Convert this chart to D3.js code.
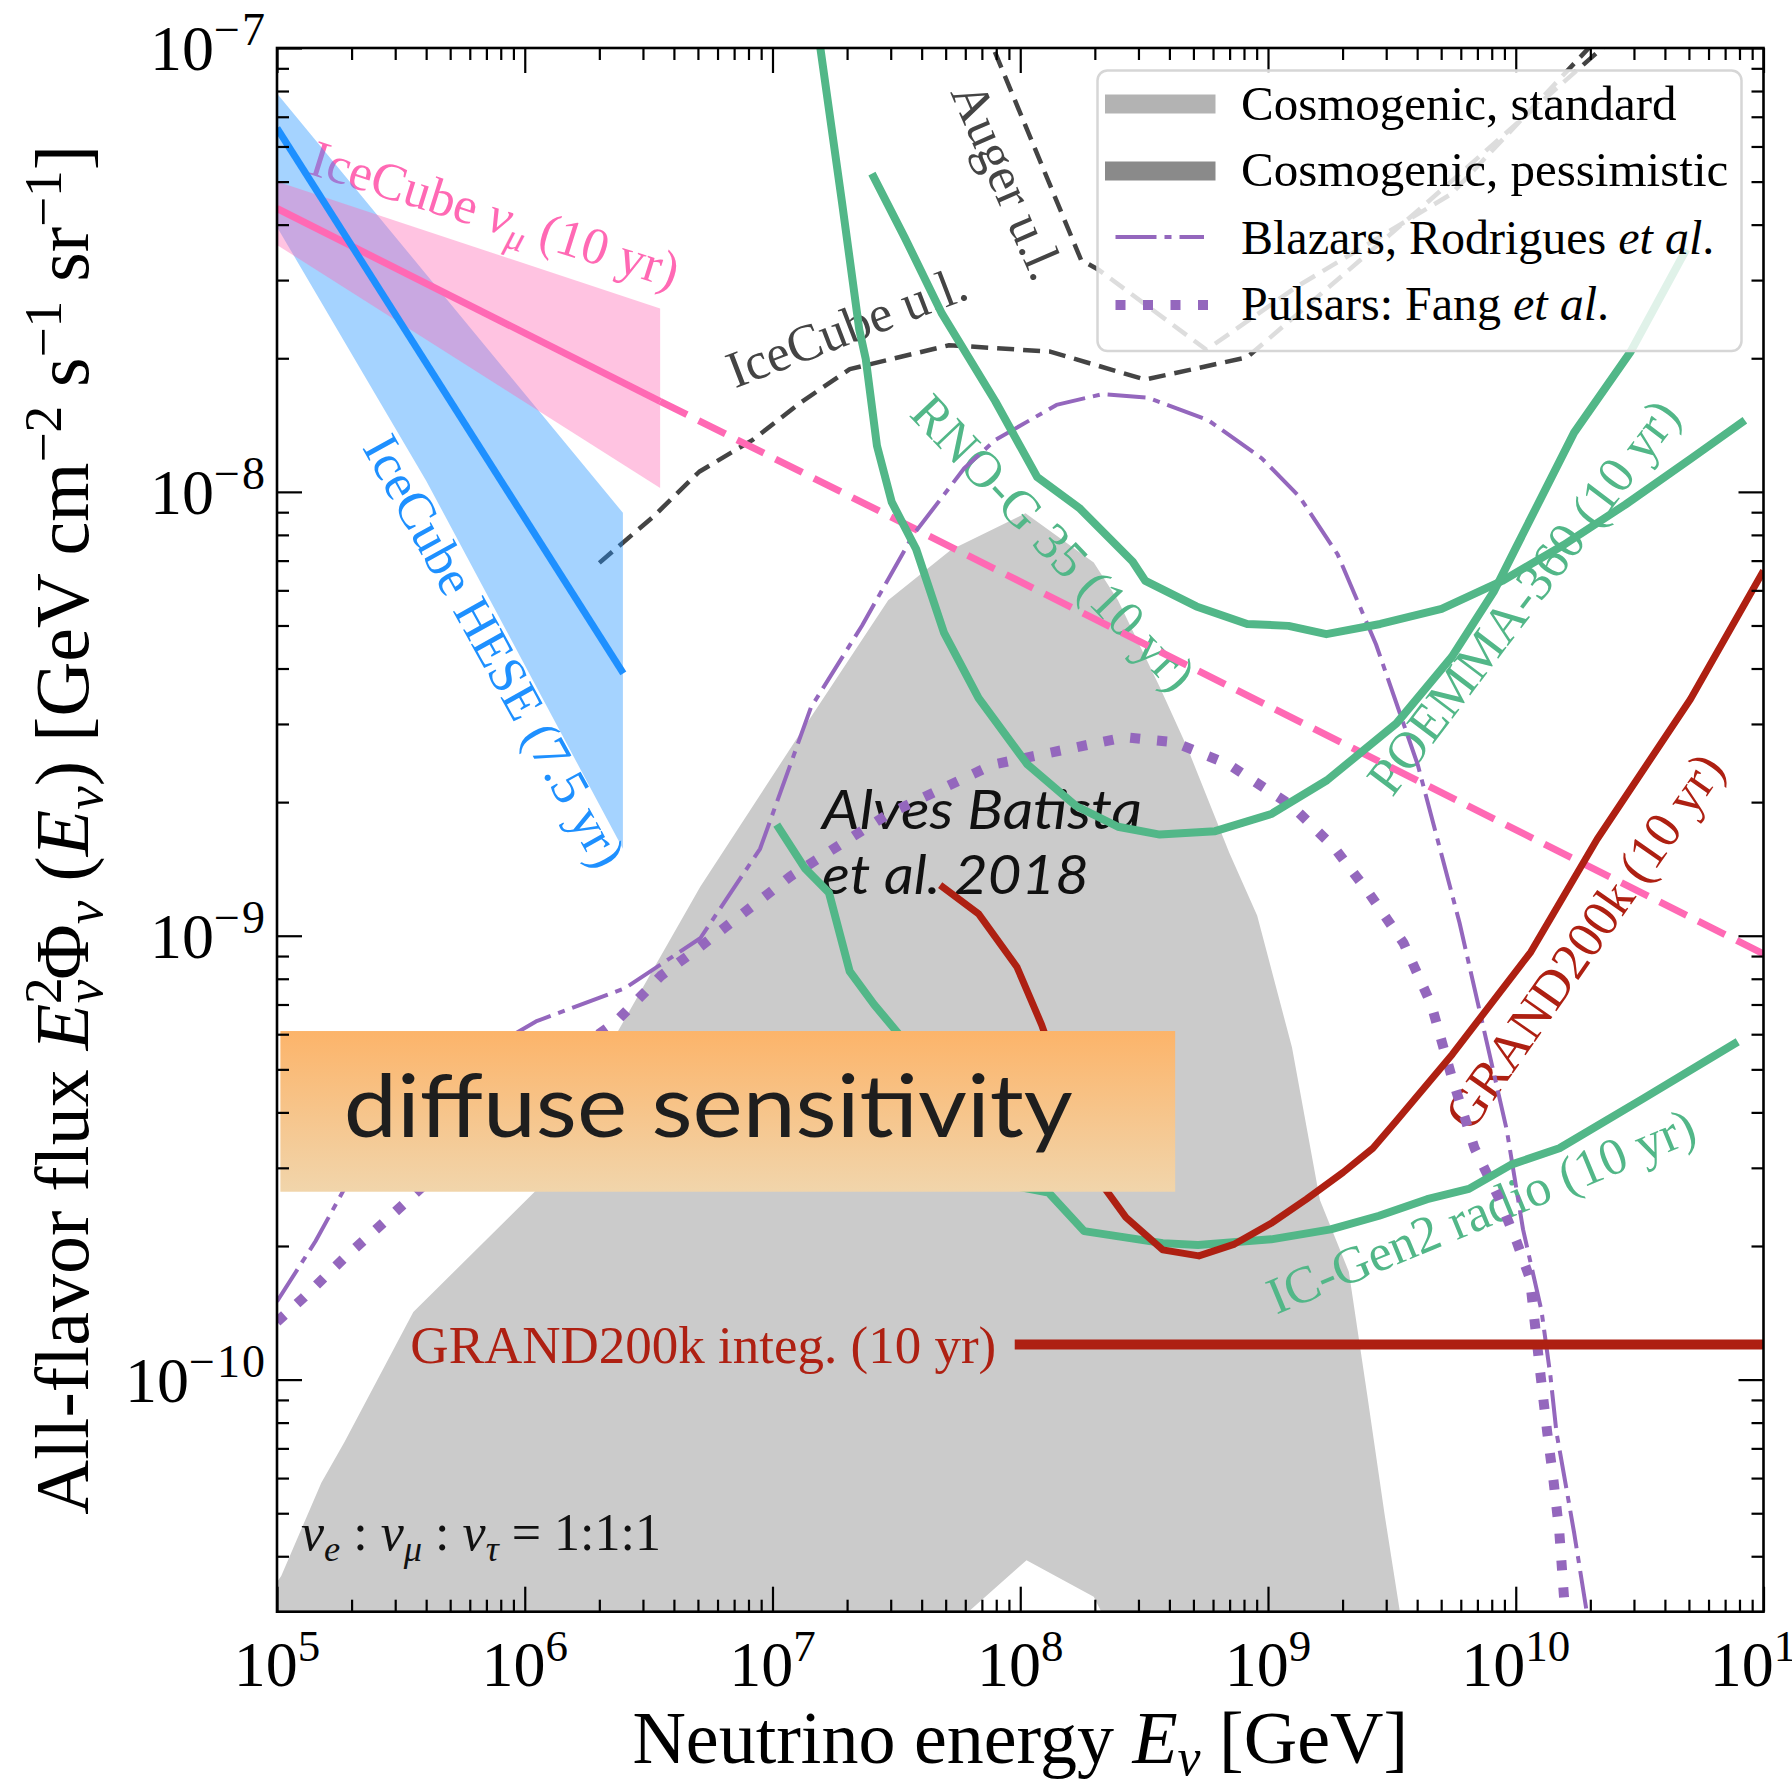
<!DOCTYPE html>
<html><head><meta charset="utf-8">
<script src="https://cdn.jsdelivr.net/npm/d3@7"></script>
<style>
body{margin:0;background:#fff;}
svg{display:block;}
</style></head><body>
<svg id="chart" width="1792" height="1786" font-family="'Liberation Serif','DejaVu Serif',serif"></svg>
<script>
// ---------------- data ----------------
const energyDomain = [1e5, 1e11];
const fluxDomain = [3e-11, 1e-7];
const xTickValues = [1e5, 1e6, 1e7, 1e8, 1e9, 1e10, 1e11];
const xTickExponents = ["5", "6", "7", "8", "9", "10", "11"];
const yTickValues = [1e-10, 1e-9, 1e-8, 1e-7];
const yTickExponents = ["\u221210", "\u22129", "\u22128", "\u22127"];

const cosmoStandardUpper = [[1.0e5,3.5e-11],[1.04e5,3.61e-11],[1.51e5,5.86e-11],[1.87e5,7.23e-11],[3.55e5,1.42e-10],[1.15e6,2.72e-10],[2.34e6,6.0e-10],[5.11e6,1.29e-9],[1.29e7,2.85e-9],[2.93e7,5.70e-9],[5.26e7,7.41e-9],[1.05e8,8.95e-9],[1.98e8,6.93e-9],[2.48e8,5.70e-9],[3.66e8,3.63e-9],[4.74e8,2.64e-9],[6.97e8,1.54e-9],[9.04e8,1.11e-9],[1.25e9,5.60e-10],[1.62e9,2.54e-10],[2.12e9,1.75e-10],[2.51e9,9.31e-11],[2.96e9,4.94e-11],[3.41e9,2.99e-11],[3.63e9,2.0e-11]];
const cosmoStandardLower = [[1.0e5,1e-11],[1.0e7,1e-11],[4.9e7,2.67e-11],[6.18e7,3.0e-11],[1.06e8,3.92e-11],[1.98e8,3.24e-11],[2.13e8,2.99e-11],[2.29e8,2.5e-11],[3.63e9,1e-11]];

const heseLine = [[1e5,6.6e-8],[2.5e6,3.9e-9]];
const heseBandUpper = [[1e5,7.9e-8],[2.49e6,8.97e-9]];
const heseBandLower = [[1e5,3.95e-8],[4.0e5,1.06e-8],[2.49e6,1.57e-9]];

const numuSolid = [[1e5,4.35e-8],[3.52e6,1.6e-8]];
const numuDashed = [[3.52e6,1.6e-8],[1e11,9.1e-10]];
const numuBandUpper = [[1e5,5.0e-8],[3.52e6,2.59e-8]];
const numuBandLower = [[1e5,3.6e-8],[3.52e6,1.02e-8]];

const icecubeUL = [[2.0e6,6.92e-9],[3.3e6,8.79e-9],[5.06e6,1.11e-8],[8.32e6,1.31e-8],[1.30e7,1.59e-8],[2.05e7,1.89e-8],[5.16e7,2.14e-8],[1.32e8,2.07e-8],[3.19e8,1.79e-8],[8.24e8,2.01e-8],[4.34e9,4.46e-8],[2.28e10,1.01e-7]];
const augerUL = [[7.2e7,1.11e-7],[1.76e8,3.33e-8],[2.08e8,3.16e-8],[5.64e8,2.09e-8],[1.32e9,2.91e-8],[5.5e9,4.69e-8],[2.14e10,1.05e-7]];

const blazars = [[1e5,1.5e-10],[1.43e5,2.05e-10],[1.87e5,2.69e-10],[3.14e5,3.65e-10],[5.34e5,5.06e-10],[1.11e6,6.41e-10],[2.54e6,7.62e-10],[5.11e6,9.87e-10],[8.91e6,1.57e-9],[1.43e7,3.27e-9],[2.30e7,5.0e-9],[3.71e7,8.02e-9],[5.94e7,1.13e-8],[7.95e7,1.31e-8],[1.40e8,1.57e-8],[2.14e8,1.66e-8],[3.27e8,1.63e-8],[5.74e8,1.45e-8],[9.44e8,1.19e-8],[1.34e9,9.75e-9],[1.91e9,7.23e-9],[2.73e9,4.53e-9],[4.02e9,2.43e-9],[5.93e9,1.07e-9],[9.2e9,3.65e-10],[1.07e10,2.18e-10],[1.27e10,1.43e-10],[1.38e10,1.02e-10],[1.46e10,7.6e-11],[1.58e10,5.93e-11],[1.72e10,4.52e-11],[1.93e10,3.02e-11],[1.98e10,2.54e-11]];
const pulsars = [[1e5,1.35e-10],[1.28e5,1.53e-10],[1.87e5,1.88e-10],[2.72e5,2.27e-10],[3.95e5,2.75e-10],[9.08e5,4.37e-10],[2.34e6,6.41e-10],[3.54e6,8.12e-10],[5.11e6,9.45e-10],[1.18e7,1.36e-9],[2.93e7,1.88e-9],[7.75e7,2.43e-9],[1.92e8,2.70e-9],[2.64e8,2.80e-9],[4.17e8,2.73e-9],[6.95e8,2.43e-9],[1.25e9,1.96e-9],[1.85e9,1.58e-9],[2.55e9,1.25e-9],[3.52e9,9.64e-10],[4.56e9,7.0e-10],[5.55e9,4.75e-10],[6.82e9,3.32e-10],[8.53e9,2.57e-10],[1.01e10,2.04e-10],[1.14e10,1.69e-10],[1.26e10,1.02e-10],[1.34e10,7.6e-11],[1.42e10,5.93e-11],[1.50e10,4.51e-11],[1.58e10,3.02e-11],[1.62e10,2.55e-11]];

const rnoG = [[2.52e7,5.21e-8],[3.41e7,3.75e-8],[4.83e7,2.52e-8],[7.93e7,1.60e-8],[1.17e8,1.08e-8],[1.73e8,9.2e-9],[2.84e8,6.97e-9],[3.20e8,6.30e-9],[5.14e8,5.52e-9],[8.24e8,5.04e-9],[1.21e9,4.99e-9],[1.72e9,4.78e-9],[2.84e9,5.04e-9],[5.02e9,5.45e-9],[8.81e9,6.30e-9],[1.56e10,7.59e-9],[2.77e10,9.36e-9],[5.12e10,1.19e-8],[8.41e10,1.45e-8]];
const poemma = [[1.53e7,1.14e-7],[1.56e7,1.0e-7],[1.91e7,4.47e-8],[2.24e7,2.32e-8],[2.38e7,1.99e-8],[2.64e7,1.27e-8],[3.03e7,9.48e-9],[3.80e7,7.43e-9],[4.92e7,4.82e-9],[6.79e7,3.43e-9],[1.07e8,2.43e-9],[1.68e8,1.96e-9],[2.48e8,1.76e-9],[3.66e8,1.69e-9],[6.12e8,1.72e-9],[1.03e9,1.88e-9],[1.73e9,2.24e-9],[3.30e9,3.01e-9],[5.52e9,4.25e-9],[8.18e9,5.98e-9],[9.95e9,7.43e-9],[1.72e10,1.36e-8],[2.91e10,2.07e-8],[4.88e10,3.52e-8]];
const icGen2Radio = [[1.04e7,1.78e-9],[1.35e7,1.42e-9],[1.69e7,1.25e-9],[2.05e7,8.31e-10],[2.57e7,7.0e-10],[3.12e7,6.15e-10],[5.5e7,4.2e-10],[9.84e7,2.72e-10],[1.30e8,2.64e-10],[1.81e8,2.16e-10],[3.76e8,2.03e-10],[5.22e8,2.01e-10],[1.03e9,2.07e-10],[1.79e9,2.18e-10],[2.81e9,2.34e-10],[4.39e9,2.55e-10],[6.47e9,2.69e-10],[9.59e9,3.05e-10],[1.50e10,3.32e-10],[3.28e10,4.30e-10],[7.87e10,5.77e-10]];
const grand200k = [[4.75e7,1.30e-9],[6.79e7,1.12e-9],[9.71e7,8.49e-10],[1.22e8,6.30e-10],[1.6e8,4.1e-10],[2.14e8,2.75e-10],[2.67e8,2.32e-10],[3.76e8,1.96e-10],[5.26e8,1.90e-10],[7.33e8,2.02e-10],[1.03e9,2.25e-10],[1.43e9,2.55e-10],[2.01e9,2.93e-10],[2.65e9,3.32e-10],[3.30e9,3.83e-10],[5.55e9,5.41e-10],[1.15e10,9.19e-10],[2.13e10,1.65e-9],[5.07e10,3.41e-9],[1e11,6.64e-9]];
const grand200kInteg = [[9.5e7,1.2e-10],[1e11,1.2e-10]];

// ---------------- layout ----------------
const plot = {left: 277, right: 1763.5, top: 48, bottom: 1611.7};
const x = d3.scaleLog().domain(energyDomain).range([plot.left, plot.right]);
const y = d3.scaleLog().domain(fluxDomain).range([plot.bottom, plot.top]);
const svg = d3.select("#chart");
const defs = svg.append("defs");
defs.append("clipPath").attr("id", "clip").append("rect")
  .attr("x", plot.left).attr("y", plot.top)
  .attr("width", plot.right - plot.left).attr("height", plot.bottom - plot.top);
const grad = defs.append("linearGradient").attr("id", "boxgrad").attr("x1", 0).attr("y1", 0).attr("x2", 0).attr("y2", 1);
grad.append("stop").attr("offset", "0%").attr("stop-color", "#fcb46a");
grad.append("stop").attr("offset", "100%").attr("stop-color", "#f1d5ab");

const line = d3.line().x(d => x(d[0])).y(d => y(d[1]));
const bandPath = (up, lo) => line(up.concat(lo.slice().reverse())) + "Z";

const GREEN = "#52b788", RED = "#ae2012", PINK = "#ff69b4", BLUE = "#1e90ff", PURPLE = "#9467bd", DARK = "#444444";
const ANN = 52;
const SANS = "Lato, 'Open Sans', 'DejaVu Sans', sans-serif";

// gray cosmogenic
const gGray = svg.append("g").attr("clip-path", "url(#clip)");
gGray.append("path").attr("d", bandPath(cosmoStandardUpper, cosmoStandardLower)).attr("fill", "#cbcbcb");

// labels helper
function label(g, px, py, angle, color, parts, size, anchor, family) {
  const t = g.append("text")
    .attr("transform", `translate(${px},${py}) rotate(${angle})`)
    .attr("fill", color).attr("font-size", size)
    .attr("text-anchor", anchor || "start");
  if (family) t.style("font-family", family);
  parts.forEach(p => {
    const ts = t.append("tspan").text(p.t);
    if (p.i) ts.attr("font-style", "italic");
    if (p.s) ts.attr("font-size", size * p.s);
    if (p.dy) ts.attr("dy", p.dy);
    if (p.dx) ts.attr("dx", p.dx);
  });
  return t;
}
const gLab = svg.append("g");
label(gLab, x(1.32e5), y(5.22e-8), 17.5, PINK,
  [{t: "IceCube "}, {t: "\u03bd", i: 1}, {t: "\u03bc", i: 1, s: 0.7, dy: 11}, {t: " (10 yr)", dy: -11}], ANN);
label(gLab, x(2.2e5), y(1.26e-8), 61, BLUE, [{t: "IceCube HESE (7.5 yr)"}], ANN);
label(gLab, x(7.05e6), y(1.71e-8), -21, DARK, [{t: "IceCube u.l."}], ANN);
label(gLab, x(5.21e7), y(7.96e-8), 66.5, DARK, [{t: "Auger u.l."}], ANN);
label(gLab, x(3.52e7), y(1.49e-8), 46.4, GREEN, [{t: "RNO-G 35 (10 yr)"}], ANN);
label(gLab, x(3.17e9), y(2.04e-9), -52.8, GREEN, [{t: "POEMMA-360 (10 yr)"}], ANN);
label(gLab, x(6.6e9), y(3.59e-10), -55, RED, [{t: "GRAND200k (10 yr)"}], ANN);
label(gLab, x(1.08e9), y(1.40e-10), -22.5, GREEN, [{t: "IC-Gen2 radio (10 yr)"}], ANN);
label(gLab, x(8.0e7), y(1.09e-10), 0, RED, [{t: "GRAND200k integ. (10 yr)"}], 53, "end");
label(gLab, x(1.585e7), y(1.74e-9), 0, "#111", [{t: "Alves Batista"}], 55, "start", SANS)
  .attr("font-style", "italic").attr("textLength", 320).attr("lengthAdjust", "spacingAndGlyphs");
label(gLab, x(1.585e7), y(1.24e-9), 0, "#111", [{t: "et al. 2018"}], 55, "start", SANS)
  .attr("font-style", "italic").attr("textLength", 267).attr("lengthAdjust", "spacingAndGlyphs");
label(gLab, x(1.25e5), y(4.13e-11), 0, "#111",
  [{t: "\u03bd", i: 1}, {t: "e", i: 1, s: 0.7, dy: 11}, {t: " : ", dy: -11}, {t: "\u03bd", i: 1}, {t: "\u03bc", i: 1, s: 0.7, dy: 11},
   {t: " : ", dy: -11}, {t: "\u03bd", i: 1}, {t: "\u03c4", i: 1, s: 0.7, dy: 11}, {t: " = 1:1:1", dy: -11}], ANN);

// data lines
const gData = svg.append("g").attr("clip-path", "url(#clip)");
function drawLine(data, color, width, dash) {
  gData.append("path").attr("d", line(data)).attr("fill", "none")
    .attr("stroke", color).attr("stroke-width", width)
    .attr("stroke-dasharray", dash || null)
    .attr("stroke-linecap", "butt").attr("stroke-linejoin", "round");
}
drawLine(icecubeUL, DARK, 4.5, "17,9");
drawLine(augerUL, DARK, 4.5, "17,9");
gData.append("path").attr("d", bandPath(heseBandUpper, heseBandLower)).attr("fill", BLUE).attr("fill-opacity", 0.4);
gData.append("path").attr("d", bandPath(numuBandUpper, numuBandLower)).attr("fill", PINK).attr("fill-opacity", 0.4);
drawLine(numuSolid, PINK, 7);
drawLine(numuDashed, PINK, 7, "30,13");
drawLine(heseLine, BLUE, 7);
drawLine(blazars, PURPLE, 4, "38,8,7,8");
drawLine(pulsars, PURPLE, 10, "10,17");
drawLine(rnoG, GREEN, 8);
drawLine(poemma, GREEN, 8);
drawLine(icGen2Radio, GREEN, 8);
drawLine(grand200k, RED, 7);
drawLine(grand200kInteg, RED, 10);

// diffuse sensitivity box
const gBox = svg.append("g");
gBox.append("rect").attr("x", x(1.032e5)).attr("y", y(6.10e-10))
  .attr("width", x(4.22e8) - x(1.032e5)).attr("height", y(2.65e-10) - y(6.10e-10))
  .attr("fill", "url(#boxgrad)");
gBox.append("text").attr("x", x(1.86e5)).attr("y", y(3.52e-10))
  .style("font-family", SANS).attr("font-size", 88).attr("fill", "#1e1e1e")
  .attr("textLength", 729).attr("lengthAdjust", "spacingAndGlyphs")
  .text("diffuse sensitivity");

// axes
const gAx = svg.append("g");
const xMinor = [], yMinor = [];
for (let k = 5; k <= 10; k++) for (let m = 2; m <= 9; m++) xMinor.push(m * Math.pow(10, k));
for (let k = -11; k <= -8; k++) for (let m = 2; m <= 9; m++) { const v = m * Math.pow(10, k); if (v > 3.05e-11 && v < 1e-7) yMinor.push(v); }
function drawAxis(gen, tr) {
  gAx.append("g").attr("transform", tr).call(gen).call(s => {
    s.select(".domain").remove();
    s.selectAll("line").attr("stroke", "#000").attr("stroke-width", 2.2);
    s.selectAll("text").remove();
  });
}
drawAxis(d3.axisBottom(x).tickValues(xTickValues).tickSize(-25).tickFormat(""), `translate(0,${plot.bottom})`);
drawAxis(d3.axisBottom(x).tickValues(xMinor).tickSize(-12).tickFormat(""), `translate(0,${plot.bottom})`);
drawAxis(d3.axisTop(x).tickValues(xTickValues).tickSize(-25).tickFormat(""), `translate(0,${plot.top})`);
drawAxis(d3.axisTop(x).tickValues(xMinor).tickSize(-12).tickFormat(""), `translate(0,${plot.top})`);
drawAxis(d3.axisLeft(y).tickValues(yTickValues).tickSize(-25).tickFormat(""), `translate(${plot.left},0)`);
drawAxis(d3.axisLeft(y).tickValues(yMinor).tickSize(-12).tickFormat(""), `translate(${plot.left},0)`);
drawAxis(d3.axisRight(y).tickValues(yTickValues).tickSize(-25).tickFormat(""), `translate(${plot.right},0)`);
drawAxis(d3.axisRight(y).tickValues(yMinor).tickSize(-12).tickFormat(""), `translate(${plot.right},0)`);
gAx.append("rect").attr("x", plot.left).attr("y", plot.top)
  .attr("width", plot.right - plot.left).attr("height", plot.bottom - plot.top)
  .attr("fill", "none").attr("stroke", "#000").attr("stroke-width", 2.6);

xTickValues.forEach((v, i) => {
  const t = gAx.append("text").attr("x", x(v)).attr("y", plot.bottom + 74)
    .attr("text-anchor", "middle").attr("font-size", 64).attr("fill", "#000");
  t.append("tspan").text("10");
  t.append("tspan").attr("dy", -25).attr("font-size", 45).text(xTickExponents[i]);
});
yTickValues.forEach((v, i) => {
  const t = gAx.append("text").attr("x", plot.left - 10).attr("y", y(v) + 22)
    .attr("text-anchor", "end").attr("font-size", 64).attr("fill", "#000");
  t.append("tspan").text("10");
  t.append("tspan").attr("dy", -25).attr("font-size", 46).attr("letter-spacing", 2).text(yTickExponents[i]);
});

// axis titles
label(gAx, (plot.left + plot.right) / 2, 1763, 0, "#000",
  [{t: "Neutrino energy "}, {t: "E", i: 1}, {t: "\u03bd", i: 1, s: 0.7, dy: 12}, {t: " [GeV]", dy: -12}], 74, "middle");
label(gAx, 88, (plot.top + plot.bottom) / 2, -90, "#000",
  [{t: "All-flavor flux "}, {t: "E", i: 1}, {t: "2", s: 0.7, dy: -27}, {t: "\u03bd", i: 1, s: 0.7, dx: -26, dy: 41},
   {t: "\u03a6", dy: -14}, {t: "\u03bd", i: 1, s: 0.7, dy: 14}, {t: " (", dy: -14}, {t: "E", i: 1},
   {t: "\u03bd", i: 1, s: 0.7, dy: 14}, {t: ") [GeV cm", dy: -14}, {t: "\u22122", s: 0.7, dy: -27},
   {t: " s", dy: 27}, {t: "\u22121", s: 0.7, dy: -27}, {t: " sr", dy: 27}, {t: "\u22121", s: 0.7, dy: -27}, {t: "]", dy: 27}], 76, "middle");

// legend
const gLeg = svg.append("g");
gLeg.append("rect").attr("x", 1097.5).attr("y", 70.5).attr("width", 644).attr("height", 280.5).attr("rx", 10)
  .attr("fill", "#fff").attr("fill-opacity", 0.82).attr("stroke", "#d6d6d6").attr("stroke-width", 2.5);
gLeg.append("rect").attr("x", 1105).attr("y", 94.5).attr("width", 110.5).attr("height", 19).attr("fill", "#b3b3b3");
gLeg.append("rect").attr("x", 1105).attr("y", 161.5).attr("width", 110.5).attr("height", 19).attr("fill", "#8a8a8a");
gLeg.append("line").attr("x1", 1115.5).attr("x2", 1204).attr("y1", 237).attr("y2", 237)
  .attr("stroke", PURPLE).attr("stroke-width", 4).attr("stroke-dasharray", "41,8,7,8");
gLeg.append("line").attr("x1", 1115.5).attr("x2", 1212).attr("y1", 305).attr("y2", 305)
  .attr("stroke", PURPLE).attr("stroke-width", 10).attr("stroke-dasharray", "10,17.5");
label(gLeg, 1241, 120, 0, "#000", [{t: "Cosmogenic, standard"}], 49);
label(gLeg, 1241, 186, 0, "#000", [{t: "Cosmogenic, pessimistic"}], 49);
label(gLeg, 1241, 253.5, 0, "#000", [{t: "Blazars, Rodrigues "}, {t: "et al", i: 1}, {t: "."}], 48);
label(gLeg, 1241, 320, 0, "#000", [{t: "Pulsars: Fang "}, {t: "et al", i: 1}, {t: "."}], 48);
</script>
</body></html>
